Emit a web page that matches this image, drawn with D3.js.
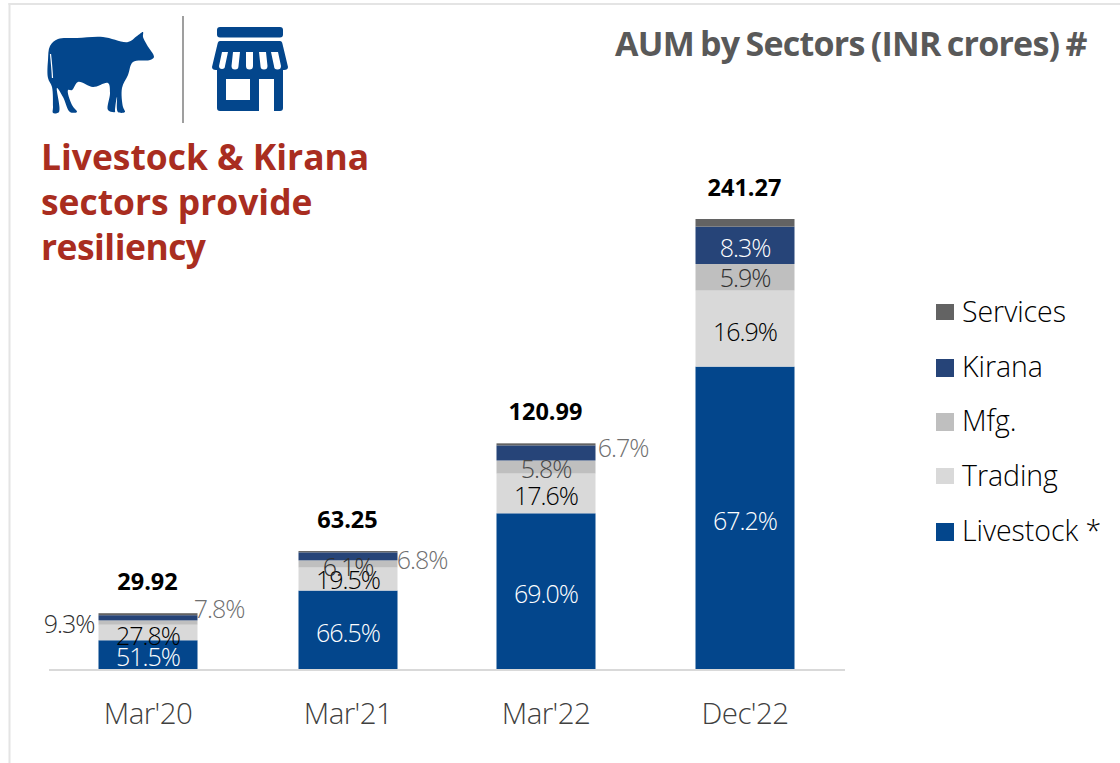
<!DOCTYPE html>
<html><head><meta charset="utf-8">
<script src="https://cdn.jsdelivr.net/npm/d3@7/dist/d3.min.js"></script>
<style>html,body{margin:0;padding:0;background:#fff}svg{display:block}text{font-family:"Open Sans","Noto Sans",sans-serif}</style>
</head><body><svg id="c" width="1120" height="763"></svg>
<script>
const periods = ["Mar'20","Mar'21","Mar'22","Dec'22"];
const totals = [29.92,63.25,120.99,241.27];
const totalLabels = ["29.92","63.25","120.99","241.27"];
const sectors = ["Livestock *","Trading","Mfg.","Kirana","Services"];
const livestock = [51.5,66.5,69.0,67.2];
const trading = [27.8,19.5,17.6,16.9];
const mfg = [7.8,6.1,5.8,5.9];
const kirana = [9.3,6.8,6.7,8.3];
const services = [3.6,1.1,0.9,1.7];
const colours = ["#03468c","#d9d9d9","#bfbfbf","#264478","#636363"];

const svg = d3.select("#c");
const barCentre = d3.scaleOrdinal().domain(periods).range([148,348,546,745]);
const barW = 99;
const y = d3.scaleLinear().domain([0,241.27]).range([669,219]);

// frame
svg.append("rect").attr("x",8.5).attr("y",3).attr("width",1112).attr("height",2).attr("fill","#e4e4e4");
svg.append("rect").attr("x",8.5).attr("y",3).attr("width",2).attr("height",760).attr("fill","#e4e4e4");

// stacked bars
const seriesArrays=[livestock,trading,mfg,kirana,services];
const rows = periods.map((p,i)=>{const o={period:p};sectors.forEach((s,k)=>o[s]=totals[i]*seriesArrays[k][i]/100);return o;});
const stacked = d3.stack().keys(sectors)(rows);
const g = svg.append("g");
stacked.forEach((layer,k)=>{
  g.selectAll(null).data(layer).enter().append("rect")
   .attr("x",d=>barCentre(d.data.period)-barW/2).attr("width",barW)
   .attr("y",d=>y(d[1])).attr("height",d=>y(d[0])-y(d[1]))
   .attr("fill",colours[k]);
});

// axis line and labels
const axisG = svg.append("g").attr("transform","translate(0,670)");
axisG.append("line").attr("x1",49).attr("x2",845).attr("stroke","#d9d9d9").attr("stroke-width",2);
axisG.selectAll("text").data(periods).enter().append("text")
  .attr("x",barCentre).attr("y",54).attr("text-anchor","middle")
  .attr("font-size",29.5).attr("font-weight",300).attr("letter-spacing",-0.6).attr("fill","#404040").text(d=>d);

// totals
svg.selectAll(".tot").data(periods).enter().append("text").attr("class","tot")
  .attr("x",(d)=>barCentre(d)-0.5).attr("y",(d,i)=>y(totals[i])-23).attr("text-anchor","middle")
  .attr("font-size",23.5).attr("font-weight",700).attr("fill","#000").text((d,i)=>totalLabels[i]);

// segment % labels
const fmt = d3.format(".1f");
const labelFont = 25;
function pct(i,k,xp,yp,c){
  svg.append("text").attr("x",xp).attr("y",yp).attr("text-anchor","middle")
    .attr("font-size",labelFont).attr("font-weight",300).attr("letter-spacing",-1).attr("fill",c)
    .text(fmt(seriesArrays[k][i])+"%");
}
const mid=(i,k)=>y(d3.sum(seriesArrays.slice(0,k),a=>a[i])*totals[i]/100+seriesArrays[k][i]*totals[i]/200);
// in-bar labels
periods.forEach((p,i)=>{
  const cx=barCentre(p);
  pct(i,0,cx,mid(i,0)+(i==0?11:12),"#fff");
  pct(i,1,cx,mid(i,1)+(i==0?12:i==1?10:12),"#000");
});
pct(1,2,348,mid(1,2)+12,"#303030");
pct(2,2,546,mid(2,2)+11,"#4a4a4a");
pct(3,2,745,mid(3,2)+10,"#303030");
pct(3,3,745,mid(3,3)+12,"#fff");
// outside labels
pct(0,3,69,633,"#303030");
pct(0,2,219,618,"#6f6f6f");
pct(1,3,422,569,"#6f6f6f");
pct(2,3,623,457,"#6f6f6f");

// legend
const legendOrder=[4,3,2,1,0];
const legend=svg.append("g");
legendOrder.forEach((k,j)=>{
  const cy=[312,367,421,476,531][j];
  legend.append("rect").attr("x",936).attr("y",cy-8).attr("width",18).attr("height",[16,18,18,16,18][j]).attr("fill",colours[k]);
  legend.append("text").attr("x",962).attr("y",cy+10).attr("font-size",28.5).attr("font-weight",300).attr("letter-spacing",-0.05).attr("fill","#000").text(sectors[k]);
});

// titles
svg.append("text").attr("x",615).attr("y",56).attr("font-size",34).attr("font-weight",700).attr("letter-spacing",-0.75).attr("word-spacing",-2).attr("fill","#595959").text("AUM by Sectors (INR crores) #");
const heading=["Livestock & Kirana","sectors provide","resiliency"];
svg.selectAll(".hd").data(heading).enter().append("text").attr("class","hd")
 .attr("x",41).attr("y",(d,i)=>170+i*45).attr("font-size",35.4).attr("font-weight",700).attr("letter-spacing",(d,i)=>i==2?-0.5:0).attr("fill","#a92d20").text(d=>d);

// divider
svg.append("line").attr("x1",183).attr("x2",183).attr("y1",16).attr("y2",123).attr("stroke","#7f7f7f").attr("stroke-width",1.5);

// cow icon
const blue="#03468c";
const cowPts=[[50,46],[58,39],[77,38],[103,37],[128,42],[137,36],[143,32],[143,37],[147,45],[154,57],[150,60],[133,62],[128,75],[122,88],[123,107],[125,112],[118,112],[117,97],[115,110],[115,112],[108,110],[110,93],[108,83],[93,87],[78,82],[72,90],[68,90],[72,105],[77,112],[70,112],[63,97],[57,88],[59,112],[53,113],[53,107],[52,87],[48,78],[48,60]];
svg.append("path").attr("d",d3.line().curve(d3.curveCatmullRomClosed.alpha(0.5))(cowPts)).attr("fill",blue);
svg.append("path").attr("d","M50.5 54 Q52 68 52.5 78").attr("fill","none").attr("stroke","#fff").attr("stroke-width",1.2);

// shop icon
const shop=svg.append("g").attr("fill",blue);
shop.append("rect").attr("x",217).attr("y",27).attr("width",66).attr("height",10.5).attr("rx",3);
shop.append("path").attr("d","M220 41 H280 Q282 41 282.5 44 L288 67 Q288 70 284 70 H283 V108 Q283 111 280 111 H220 Q217 111 217 108 V70 H216 Q212 70 212 67 L217.5 44 Q218 41 220 41 Z");
const white=svg.append("g").attr("fill","#fff");
white.append("rect").attr("x",226).attr("y",79).attr("width",24).attr("height",21);
white.append("rect").attr("x",259).attr("y",79).attr("width",15).attr("height",32);
[[222,228],[233,240],[246,253],[259,266],[271,278]].forEach(([a,b],i)=>{
  const off=[-3,-1.5,0,1.5,3][i];
  white.append("path").attr("d",`M${a} 52 H${b} L${b+off} 66 A${(b-a)/2} ${(b-a)/2} 0 0 1 ${a+off} 66 Z`);
});
</script></body></html>
